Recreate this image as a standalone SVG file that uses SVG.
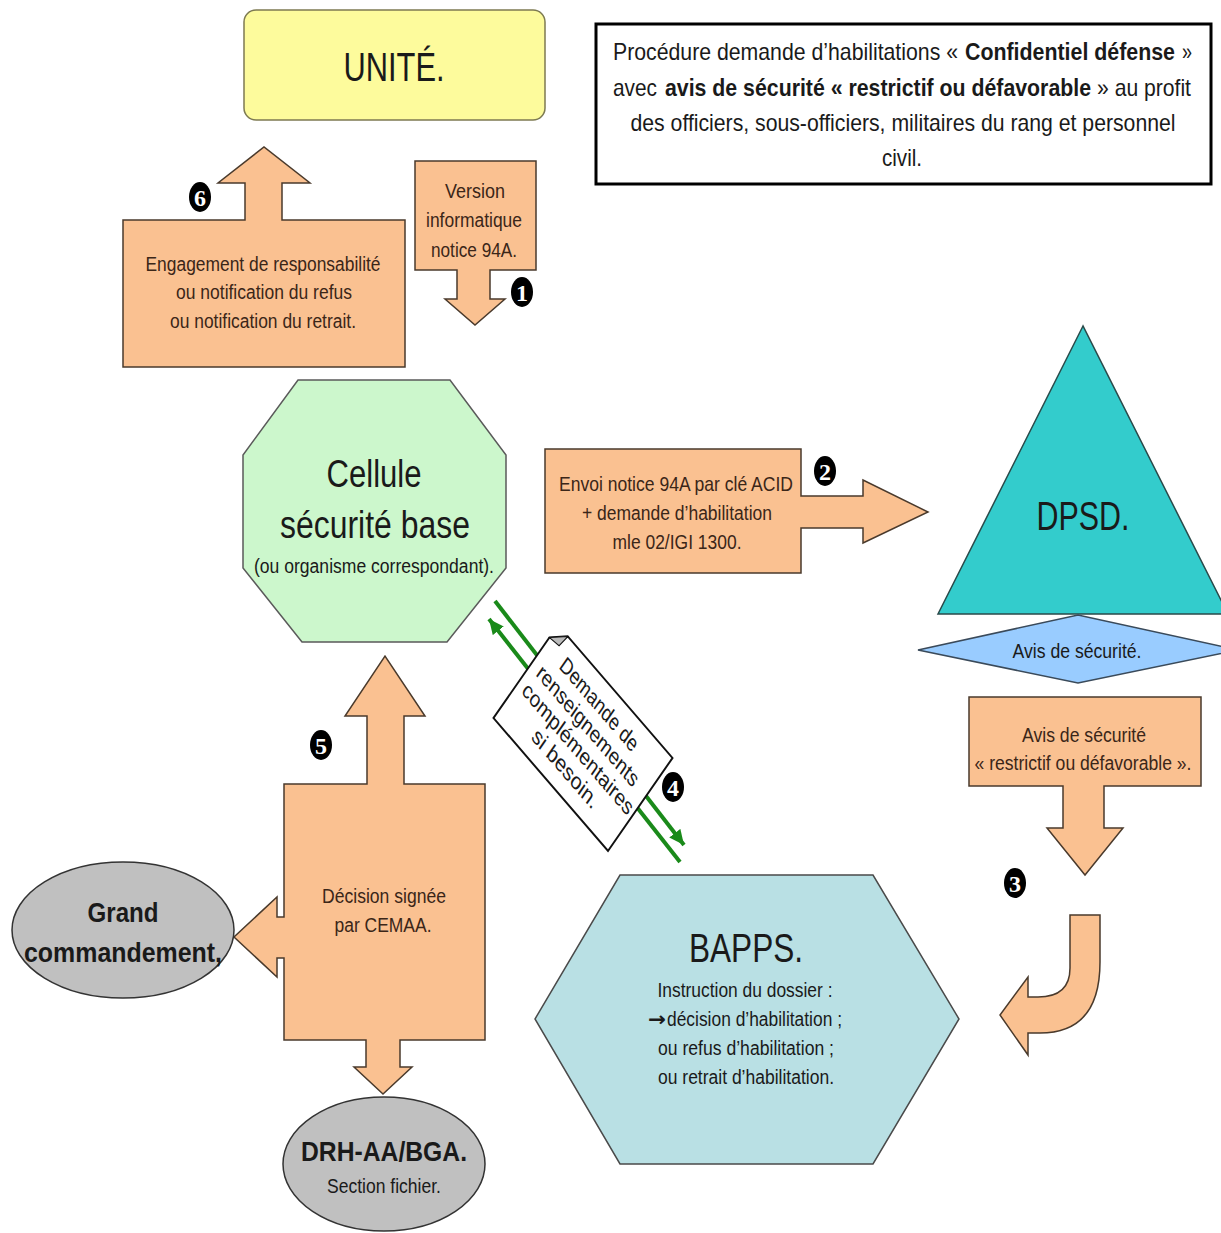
<svg xmlns="http://www.w3.org/2000/svg" width="1221" height="1233" viewBox="0 0 1221 1233">
<style>
text{font-family:"Liberation Sans Narrow","Liberation Sans",Arial,sans-serif;text-anchor:middle;fill:#1a1a1a;}
.st{text-anchor:start;font-size:24px;}
.o{fill:#fac191;stroke:#4a3a2c;stroke-width:1.5;}
.ot{font-size:20px;fill:#3b2618;}
.big{font-size:40px;}
.mid{font-size:20px;}
.b{font-weight:bold;}
.badge ellipse{fill:#000;}
.badge text{fill:#fff;font-family:"Liberation Serif","Times New Roman",serif;font-weight:bold;font-size:24px;}
.g{stroke:#1a8a1a;stroke-width:4;fill:none;}
</style>
<defs>
<marker id="ga" markerUnits="userSpaceOnUse" markerWidth="16" markerHeight="14" refX="15" refY="7" orient="auto">
<path d="M0,0 L15,7 L0,14 Z" fill="#1a8a1a"/>
</marker>
</defs>
<rect width="1221" height="1233" fill="#fff"/>

<g id="connectors">
<path d="M680,862 L489,619" class="g" marker-end="url(#ga)"/>
<path d="M495,601 L684,845" class="g" marker-end="url(#ga)"/>
<path id="curved-arrow" class="o" d="M1070,915 H1100 V962 Q1100,1033 1040,1033 H1028 V1055 L1000,1015 L1028,977 V997 H1038 Q1070,997 1070,968 Z"/>
</g>

<g id="title">
<rect x="596" y="24" width="615" height="160" fill="#fff" stroke="#000" stroke-width="3"/>
<g transform="scale(0.8,1)">
<text x="766.25" y="60" class="st" textLength="431.25" lengthAdjust="spacingAndGlyphs">Procédure demande d’habilitations «</text>
<text x="1206.25" y="60" class="st b" textLength="262.5" lengthAdjust="spacingAndGlyphs">Confidentiel défense</text>
<text x="1477.5" y="60" class="st" textLength="12.5" lengthAdjust="spacingAndGlyphs">»</text>
<text x="766.25" y="96" class="st" textLength="55" lengthAdjust="spacingAndGlyphs">avec</text>
<text x="831.25" y="96" class="st b" textLength="532.5" lengthAdjust="spacingAndGlyphs">avis de sécurité « restrictif ou défavorable</text>
<text x="1371.25" y="96" class="st" textLength="117.5" lengthAdjust="spacingAndGlyphs">» au profit</text>
<text x="1128.75" y="131" font-size="24" textLength="681.25" lengthAdjust="spacingAndGlyphs">des officiers, sous-officiers, militaires du rang et personnel</text>
<text x="1127.5" y="166" font-size="24" textLength="50" lengthAdjust="spacingAndGlyphs">civil.</text>
</g>
</g>

<g id="unite">
<rect x="244" y="10" width="301" height="110" rx="12" fill="#fdfb9c" stroke="#7d7a52" stroke-width="1.5"/>
<text x="394" y="81" class="big" textLength="101" lengthAdjust="spacingAndGlyphs">UNITÉ.</text>
</g>

<g id="engagement">
<path class="o" d="M123,220 H245 V183 H218 L264,147 L310,183 H282 V220 H405 V367 H123 Z"/>
<text x="263" y="271" class="ot" textLength="235" lengthAdjust="spacingAndGlyphs">Engagement de responsabilité</text>
<text x="264" y="299" class="ot" textLength="176" lengthAdjust="spacingAndGlyphs">ou notification du refus</text>
<text x="263" y="328" class="ot" textLength="186" lengthAdjust="spacingAndGlyphs">ou notification du retrait.</text>
</g>
<g id="badge6" class="badge"><ellipse cx="200" cy="197" rx="11" ry="15"/><text x="200" y="206">6</text></g>

<g id="version">
<path class="o" d="M415,161 H536 V270 H490 V299 H505 L475,325 L445,299 H457 V270 H415 Z"/>
<text x="475" y="198" class="ot" textLength="60" lengthAdjust="spacingAndGlyphs">Version</text>
<text x="474" y="227" class="ot" textLength="96" lengthAdjust="spacingAndGlyphs">informatique</text>
<text x="474" y="257" class="ot" textLength="86" lengthAdjust="spacingAndGlyphs">notice 94A.</text>
</g>
<g id="badge1" class="badge"><ellipse cx="522" cy="292" rx="11" ry="15"/><text x="522" y="301">1</text></g>

<g id="cellule">
<polygon points="298,380 450,380 506,455 506,568 447,642 302,642 243,568 243,455" fill="#ccf7cc" stroke="#5a5a5a" stroke-width="1.5"/>
<text x="374" y="487" font-size="38" textLength="95" lengthAdjust="spacingAndGlyphs">Cellule</text>
<text x="375" y="538" font-size="38" textLength="190" lengthAdjust="spacingAndGlyphs">sécurité base</text>
<text x="374" y="573" class="mid" textLength="240" lengthAdjust="spacingAndGlyphs">(ou organisme correspondant).</text>
</g>

<g id="envoi">
<path class="o" d="M545,449 H801 V496 H863 V480 L928,512 L863,543 V528 H801 V573 H545 Z"/>
<text x="804.76" y="491" class="ot" transform="scale(0.84,1)" textLength="278.6" lengthAdjust="spacingAndGlyphs">Envoi notice 94A par clé ACID</text>
<text x="677" y="520" class="ot" textLength="190" lengthAdjust="spacingAndGlyphs">+ demande d’habilitation</text>
<text x="677" y="549" class="ot" textLength="129" lengthAdjust="spacingAndGlyphs">mle 02/IGI 1300.</text>
</g>
<g id="badge2" class="badge"><ellipse cx="825" cy="471" rx="11" ry="15"/><text x="825" y="480">2</text></g>

<g id="dpsd">
<polygon points="1083,326 938,614 1228,614" fill="#33cccc" stroke="#2a4a4a" stroke-width="1.5"/>
<text x="1083" y="530" class="big" textLength="93" lengthAdjust="spacingAndGlyphs">DPSD.</text>
</g>

<g id="avis-diamond">
<polygon points="918,650 1078,615 1238,650 1078,683" fill="#99ccff" stroke="#3a4a5a" stroke-width="1.5"/>
<text x="1077" y="658" class="mid" textLength="129" lengthAdjust="spacingAndGlyphs">Avis de sécurité.</text>
</g>

<g id="avis-restrictif">
<path class="o" d="M969,697 H1201 V786 H1104 V828 H1123 L1085,875 L1047,828 H1063 V786 H969 Z"/>
<text x="1084" y="742" class="ot" textLength="124" lengthAdjust="spacingAndGlyphs">Avis de sécurité</text>
<text x="1083" y="770" class="ot" textLength="217" lengthAdjust="spacingAndGlyphs">« restrictif ou défavorable ».</text>
</g>
<g id="badge3" class="badge"><ellipse cx="1015" cy="883" rx="11" ry="15"/><text x="1015" y="892">3</text></g>

<g id="bapps">
<polygon points="620,875 873,875 959,1019 873,1164 620,1164 535,1019" fill="#b9e0e4" stroke="#4a4a4a" stroke-width="1.5"/>
<text x="746" y="962" class="big" textLength="114" lengthAdjust="spacingAndGlyphs">BAPPS.</text>
<text x="745" y="997" class="mid" textLength="175" lengthAdjust="spacingAndGlyphs">Instruction du dossier :</text>
<text x="648" y="1026" class="mid" style="text-anchor:start;font-family:'DejaVu Sans',sans-serif;font-weight:bold" textLength="18" lengthAdjust="spacingAndGlyphs">→</text>
<text x="667" y="1026" class="mid" style="text-anchor:start" textLength="175" lengthAdjust="spacingAndGlyphs">décision d’habilitation ;</text>
<text x="746" y="1055" class="mid" textLength="176" lengthAdjust="spacingAndGlyphs">ou refus d’habilitation ;</text>
<text x="746" y="1084" class="mid" textLength="176" lengthAdjust="spacingAndGlyphs">ou retrait d’habilitation.</text>
</g>

<g id="demande">
<g transform="matrix(0.658,0.764,-0.576,0.830,583,738)">
<path d="M-72,-56 H87 V56 H-87 V-41 Z" fill="#fff" stroke="#111" stroke-width="2"/>
<path d="M-87,-41 L-72,-56 L-74,-43 Z" fill="#bbb" stroke="#111" stroke-width="1"/>
<text x="-6" y="-28" font-size="21" textLength="112" lengthAdjust="spacingAndGlyphs">Demande de</text>
<text x="-3" y="-5" font-size="21" textLength="148" lengthAdjust="spacingAndGlyphs">renseignements</text>
<text x="2" y="18" font-size="21" textLength="162" lengthAdjust="spacingAndGlyphs">complémentaires</text>
<text x="3" y="41" font-size="21" textLength="94" lengthAdjust="spacingAndGlyphs">si besoin.</text>
</g>
</g>
<g id="badge4" class="badge"><ellipse cx="673" cy="787" rx="11" ry="15"/><text x="673" y="796">4</text></g>

<g id="decision">
<path class="o" d="M284,784 H367 V716 H345 L385,656 L425,716 H404 V784 H485 V1040 H400 V1067 H412 L383,1094 L354,1067 H366 V1040 H284 V958 H277 V977 L234,937 L277,897 V917 H284 Z"/>
<text x="384" y="903" class="ot" textLength="124" lengthAdjust="spacingAndGlyphs">Décision signée</text>
<text x="383" y="932" class="ot" textLength="97" lengthAdjust="spacingAndGlyphs">par CEMAA.</text>
</g>
<g id="badge5" class="badge"><ellipse cx="321" cy="745" rx="11" ry="15"/><text x="321" y="754">5</text></g>

<g id="grand-commandement">
<ellipse cx="123" cy="930" rx="111" ry="68" fill="#c0c0c0" stroke="#333" stroke-width="1.5"/>
<text x="123" y="922" font-size="28" class="b" textLength="71" lengthAdjust="spacingAndGlyphs">Grand</text>
<text x="123" y="962" font-size="28" class="b" textLength="198" lengthAdjust="spacingAndGlyphs">commandement,</text>
</g>

<g id="drh">
<ellipse cx="384" cy="1164" rx="101" ry="67" fill="#c0c0c0" stroke="#333" stroke-width="1.5"/>
<text x="384" y="1161" font-size="28" class="b" textLength="166" lengthAdjust="spacingAndGlyphs">DRH-AA/BGA.</text>
<text x="384" y="1193" class="mid" textLength="114" lengthAdjust="spacingAndGlyphs">Section fichier.</text>
</g>
</svg>
